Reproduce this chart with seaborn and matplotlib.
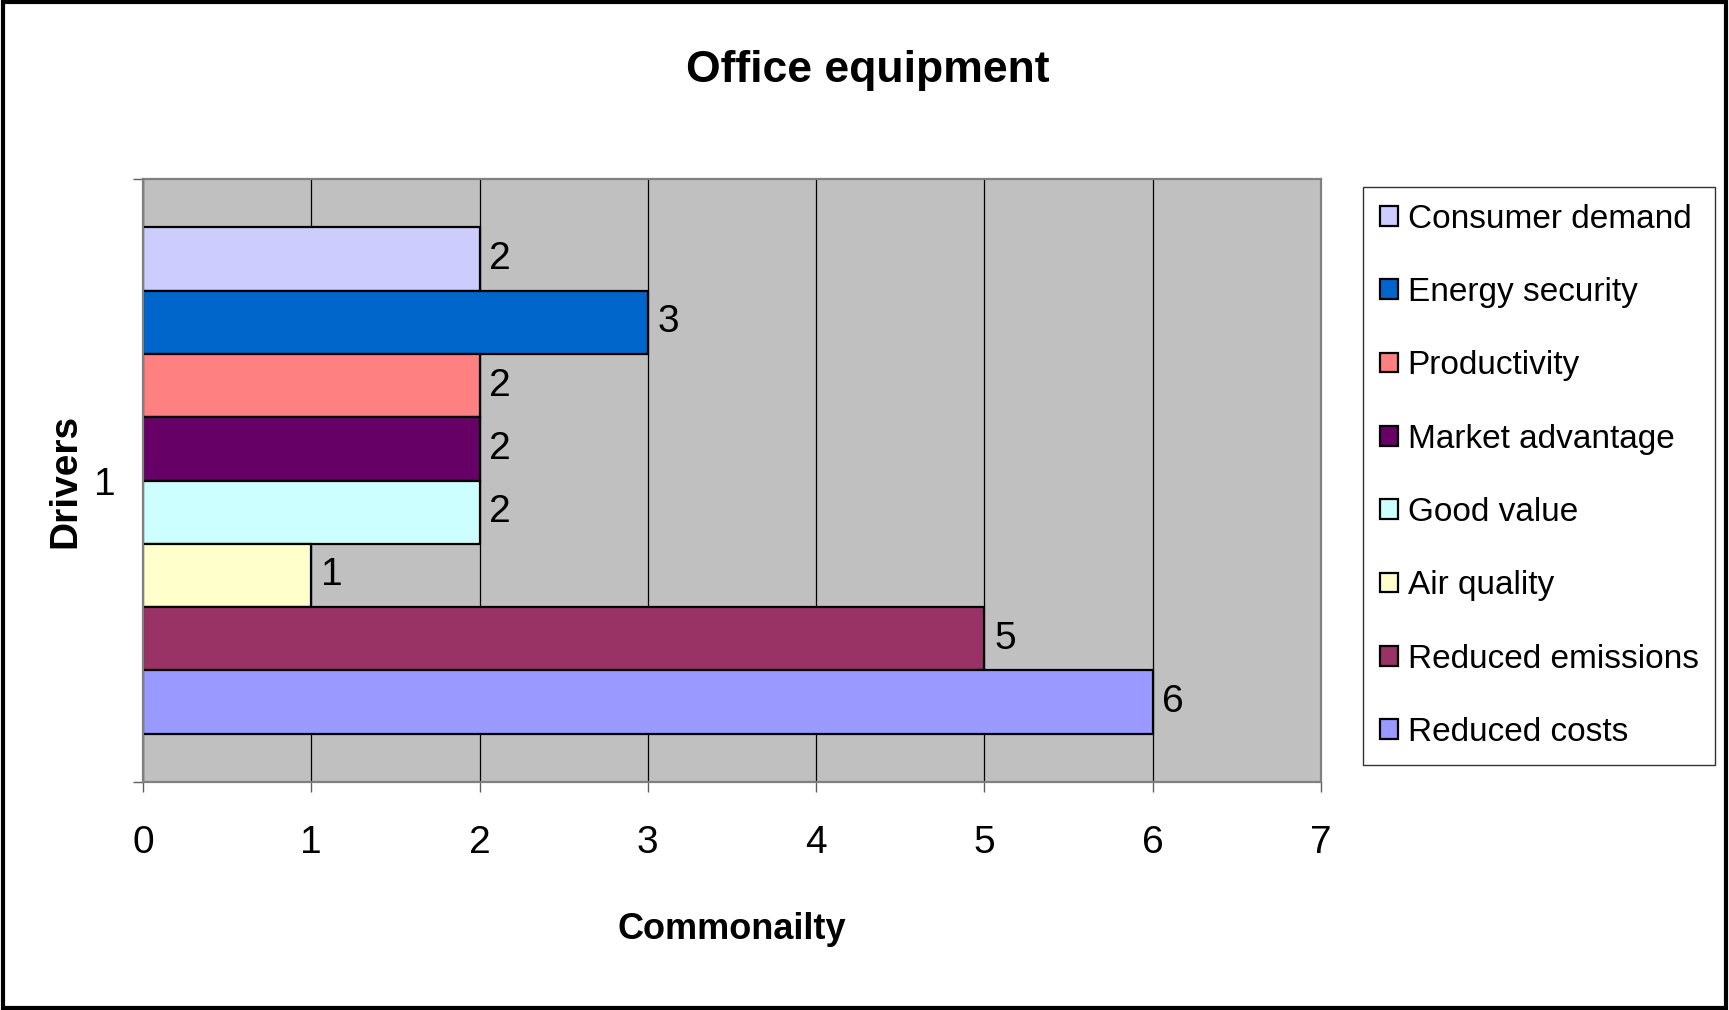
import matplotlib
matplotlib.use("Agg")
import matplotlib.pyplot as plt
from matplotlib.patches import Patch, Rectangle
import seaborn as sns
import pandas as pd

# chart data
drivers = ["Consumer demand", "Energy security", "Productivity", "Market advantage",
           "Good value", "Air quality", "Reduced emissions", "Reduced costs"]
commonality = [2, 3, 2, 2, 2, 1, 5, 6]
bar_colors = ["#CCCCFF", "#0066CC", "#FF8080", "#660066",
              "#CCFFFF", "#FFFFCC", "#993366", "#9999FF"]
group = "1"
x_ticks = [0, 1, 2, 3, 4, 5, 6, 7]

sns.set_style("white")
plt.rcParams["font.family"] = ["Liberation Sans Narrow", "Liberation Sans", "DejaVu Sans"]
plt.rcParams["text.color"] = "black"
plt.rcParams["xtick.color"] = "black"
plt.rcParams["ytick.color"] = "black"
plt.rcParams["axes.labelcolor"] = "black"

df = pd.DataFrame({"Driver": drivers, "Commonailty": commonality, "Group": [group] * len(drivers)})

fig = plt.figure(figsize=(17.29, 10.10), dpi=100)
ax = fig.add_axes([0.0827, 0.2257, 0.6813, 0.5971])

sns.barplot(data=df, x="Commonailty", y="Group", hue="Driver", hue_order=drivers,
            palette=bar_colors, saturation=1, orient="h", width=0.84, edgecolor="black",
            linewidth=1.6, legend=False, ax=ax)

ax.set_facecolor("#C0C0C0")
ax.set_xlim(0, 7)
ax.set_ylim(0.5, -0.5)
ax.set_xticks(x_ticks)
ax.set_xticklabels([str(t) for t in x_ticks])
ax.xaxis.grid(True, color="black", linewidth=0.9)
ax.set_axisbelow(True)
for s in ax.spines.values():
    s.set_color("#808080")
    s.set_linewidth(1.6)

ax.tick_params(axis="x", which="major", direction="out", length=7, width=1,
               color="#606060", pad=24, labelsize=28, bottom=True)
ax.set_yticks([0])
ax.set_yticklabels([group])
ax.set_yticks([-0.5, 0.5], minor=True)
ax.tick_params(axis="y", which="major", length=0, pad=20, labelsize=28, left=True)
ax.tick_params(axis="y", which="minor", direction="out", length=7, width=1,
               color="#606060", left=True)

for cont in ax.containers:
    ax.bar_label(cont, fmt="%g", padding=7, fontsize=28)

ax.set_xlabel("Commonailty", fontsize=26, fontweight="bold")
ax.xaxis.set_label_coords(0.5, -0.215)
ax.set_ylabel("Drivers", fontsize=28, fontweight="bold")
ax.yaxis.set_label_coords(-0.051, 0.5)

fig.text(0.502, 0.93, "Office equipment", ha="center", va="center",
         fontsize=32, fontweight="bold")

handles = [Patch(facecolor=c, edgecolor="black", linewidth=1.6) for c in bar_colors]
leg = fig.legend(handles, drivers, loc="upper left", bbox_to_anchor=(0.7883, 0.8149),
                 fontsize=24, frameon=True, fancybox=False, edgecolor="black",
                 handlelength=0.54, handleheight=0.54, handletextpad=0.3,
                 labelspacing=1.27, borderpad=0.5, borderaxespad=0)
leg.get_frame().set_linewidth(1.0)

fig.patches.append(Rectangle((0.0015, 0.002), 0.997, 0.996, transform=fig.transFigure,
                             fill=False, edgecolor="black", linewidth=3))

fig.savefig("out.png", dpi=100, facecolor="white")
